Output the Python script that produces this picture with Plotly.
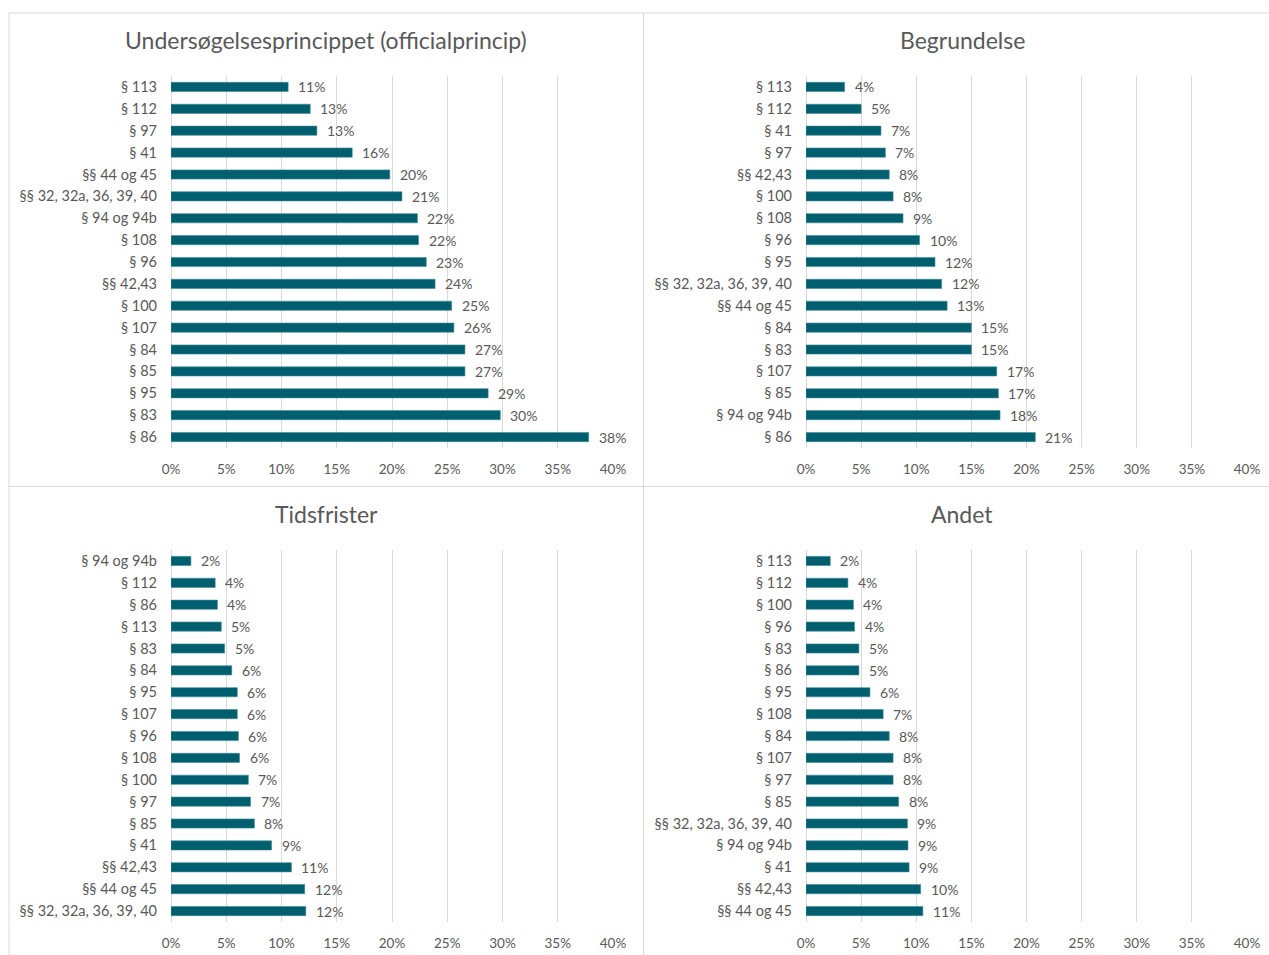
import plotly.graph_objects as go

W, H = 1269, 955

# ---- data (percent of cases), listed top to bottom as displayed ----
undersog_cats = ["§ 113", "§ 112", "§ 97", "§ 41", "§§ 44 og 45", "§§ 32, 32a, 36, 39, 40",
                 "§ 94 og 94b", "§ 108", "§ 96", "§§ 42,43", "§ 100", "§ 107", "§ 84",
                 "§ 85", "§ 95", "§ 83", "§ 86"]
undersog_vals = [10.6, 12.6, 13.2, 16.4, 19.8, 20.9, 22.3, 22.4, 23.1, 23.9, 25.4, 25.6,
                 26.6, 26.6, 28.7, 29.8, 37.8]

begrund_cats = ["§ 113", "§ 112", "§ 41", "§ 97", "§§ 42,43", "§ 100", "§ 108", "§ 96",
                "§ 95", "§§ 32, 32a, 36, 39, 40", "§§ 44 og 45", "§ 84", "§ 83", "§ 107",
                "§ 85", "§ 94 og 94b", "§ 86"]
begrund_vals = [3.5, 5.0, 6.8, 7.2, 7.55, 7.9, 8.8, 10.3, 11.7, 12.3, 12.8, 15.0, 15.0,
                17.3, 17.45, 17.6, 20.8]

tidsfrist_cats = ["§ 94 og 94b", "§ 112", "§ 86", "§ 113", "§ 83", "§ 84", "§ 95", "§ 107",
                  "§ 96", "§ 108", "§ 100", "§ 97", "§ 85", "§ 41", "§§ 42,43",
                  "§§ 44 og 45", "§§ 32, 32a, 36, 39, 40"]
tidsfrist_vals = [1.8, 4.0, 4.2, 4.55, 4.85, 5.5, 6.0, 6.0, 6.1, 6.2, 7.0, 7.2, 7.55, 9.1,
                  10.9, 12.1, 12.2]

andet_cats = ["§ 113", "§ 112", "§ 100", "§ 96", "§ 83", "§ 86", "§ 95", "§ 108", "§ 84",
              "§ 107", "§ 97", "§ 85", "§§ 32, 32a, 36, 39, 40", "§ 94 og 94b", "§ 41",
              "§§ 42,43", "§§ 44 og 45"]
andet_vals = [2.2, 3.8, 4.3, 4.4, 4.8, 4.8, 5.8, 7.0, 7.55, 7.9, 7.9, 8.4, 9.2, 9.25, 9.35,
              10.4, 10.6]

panel_titles = ["Undersøgelsesprincippet (officialprincip)", "Begrundelse", "Tidsfrister", "Andet"]
x_ticks = [0, 5, 10, 15, 20, 25, 30, 35, 40]

# ---- styling ----
BAR = "#005F6E"
TXT = "#595959"
GRID = "#D9D9D9"
FONT = "Lato"


def fx(px):
    return px / W


def fy(px):
    return 1 - px / H


# pixel geometry of each plot area: (x0, x1, y_top, y_bottom), and panel centre for titles
plots = [
    dict(x=(171, 613), y=(76, 448), cx=326, ty=40),
    dict(x=(806, 1247), y=(76, 448), cx=962, ty=40),
    dict(x=(171, 613), y=(550, 922), cx=326, ty=514),
    dict(x=(806, 1247), y=(550, 922), cx=962, ty=514),
]
series = [
    (undersog_cats, undersog_vals),
    (begrund_cats, begrund_vals),
    (tidsfrist_cats, tidsfrist_vals),
    (andet_cats, andet_vals),
]

fig = go.Figure()
annotations = []
layout = {}

for i, ((cats, vals), geo) in enumerate(zip(series, plots)):
    sfx = "" if i == 0 else str(i + 1)
    xa, ya = "x" + sfx, "y" + sfx
    fig.add_trace(go.Bar(
        x=vals, y=cats, orientation="h", xaxis=xa, yaxis=ya,
        marker=dict(color=BAR, line=dict(color="#3F8A95", width=0.6)),
        hoverinfo="x+y", showlegend=False,
    ))
    # value labels just right of each bar
    for c, v in zip(cats, vals):
        annotations.append(dict(
            x=v, y=c, xref=xa, yref=ya, text=f"{v:.0f}%", showarrow=False,
            xanchor="left", yanchor="middle", xshift=8, yshift=0,
            font=dict(family=FONT, size=14, color=TXT),
        ))
    layout["xaxis" + sfx] = dict(
        domain=[fx(geo["x"][0]), fx(geo["x"][1])], anchor=ya, range=[0, 40],
        tickvals=x_ticks, ticktext=[f"{t}%" for t in x_ticks],
        showgrid=True, gridcolor=GRID, gridwidth=1,
        zeroline=True, zerolinecolor=GRID, zerolinewidth=1,
        showline=False, ticks="", ticklabelstandoff=11, automargin=False,
        tickfont=dict(family=FONT, size=13.5, color=TXT), fixedrange=True,
    )
    layout["yaxis" + sfx] = dict(
        domain=[fy(geo["y"][1]), fy(geo["y"][0])], anchor=xa, type="category",
        categoryorder="array", categoryarray=cats, autorange="reversed",
        showgrid=False, zeroline=False, showline=False, ticks="", automargin=False,
        ticklabelstandoff=13, tickfont=dict(family=FONT, size=14.5, color=TXT),
        fixedrange=True,
    )
    annotations.append(dict(
        x=fx(geo["cx"]), y=fy(geo["ty"]), xref="paper", yref="paper",
        text=panel_titles[i], showarrow=False, xanchor="center", yanchor="middle",
        font=dict(family=FONT, size=23, color=TXT),
    ))

# thin frames separating the four panels
line = dict(color=GRID, width=1)
shapes = [
    dict(type="line", xref="paper", yref="paper", x0=fx(9), x1=1, y0=fy(13), y1=fy(13), line=line),
    dict(type="line", xref="paper", yref="paper", x0=fx(9), x1=1, y0=fy(486.5), y1=fy(486.5), line=line),
    dict(type="line", xref="paper", yref="paper", x0=fx(9), x1=fx(9), y0=fy(13), y1=0, line=line),
    dict(type="line", xref="paper", yref="paper", x0=fx(643.5), x1=fx(643.5), y0=fy(13), y1=0, line=line),
]

fig.update_layout(
    width=W, height=H, margin=dict(l=0, r=0, t=0, b=0),
    paper_bgcolor="white", plot_bgcolor="white",
    bargap=0.58, annotations=annotations, shapes=shapes,
    font=dict(family=FONT, color=TXT), **layout,
)

fig.write_html("out.html")
